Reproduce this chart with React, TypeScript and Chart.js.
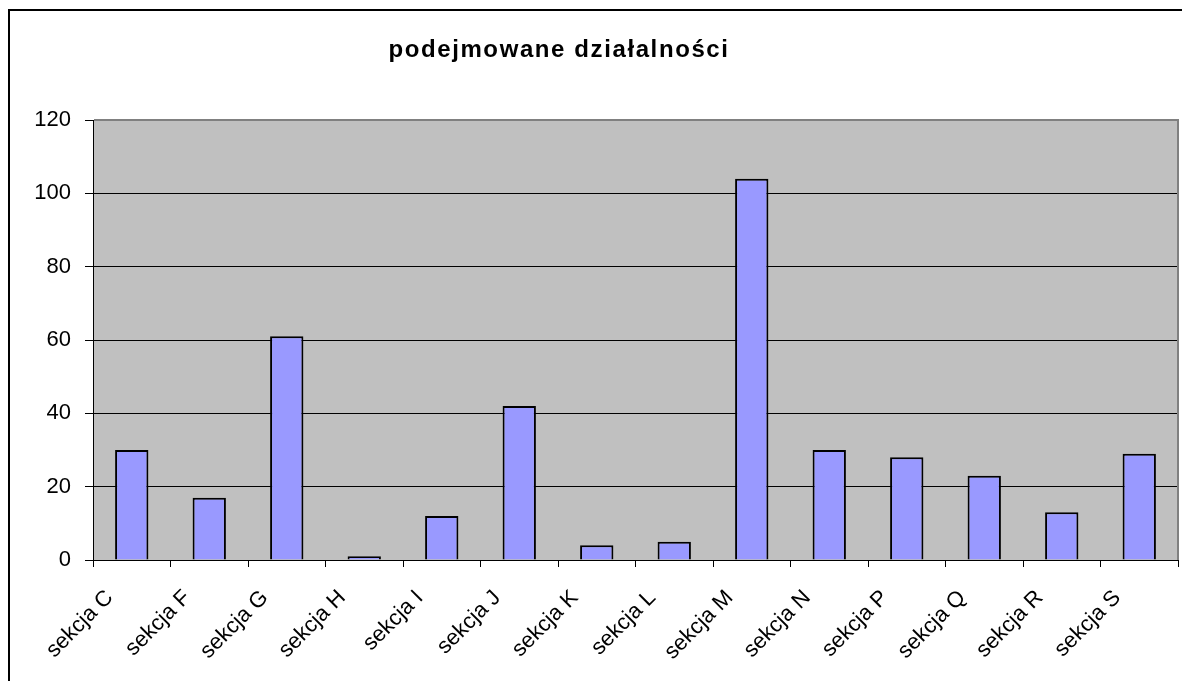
import React, { useEffect, useRef } from "react";
import { Chart, registerables } from "chart.js";

Chart.register(...registerables);

const categories = [
  "sekcja C", "sekcja F", "sekcja G", "sekcja H", "sekcja I", "sekcja J", "sekcja K",
  "sekcja L", "sekcja M", "sekcja N", "sekcja P", "sekcja Q", "sekcja R", "sekcja S",
];
const values = [30, 17, 61, 1, 12, 42, 4, 5, 104, 30, 28, 23, 13, 29];
const titleText = "podejmowane działalności";
const yMin = 0;
const yMax = 120;
const yStep = 20;

const FONT = "Arial, 'Liberation Sans', sans-serif";

export default function App() {
  const ref = useRef<HTMLCanvasElement | null>(null);

  useEffect(() => {
    if (!ref.current) return;
    const bgPlugin = {
      id: "plotBg",
      beforeDraw(chart: any) {
        const { ctx, chartArea } = chart;
        ctx.save();
        ctx.fillStyle = "#C0C0C0";
        ctx.fillRect(chartArea.left, chartArea.top, chartArea.right - chartArea.left, chartArea.bottom - chartArea.top);
        ctx.restore();
      },
      afterDatasetsDraw(chart: any) {
        const { ctx, chartArea } = chart;
        ctx.save();
        ctx.strokeStyle = "#808080";
        ctx.lineWidth = 2;
        ctx.beginPath();
        ctx.moveTo(chartArea.left + 1, chartArea.top);
        ctx.lineTo(chartArea.right, chartArea.top);
        ctx.lineTo(chartArea.right, chartArea.bottom);
        ctx.stroke();
        ctx.restore();
      },
      afterDraw(chart: any) {
        const { ctx } = chart;
        ctx.save();
        ctx.fillStyle = "#000";
        ctx.font = `bold 24px ${FONT}`;
        ctx.textAlign = "center";
        ctx.textBaseline = "middle";
        try { (ctx as any).letterSpacing = "1.6px"; } catch (e) {}
        ctx.fillText(titleText, 559, 50);
        ctx.restore();
      },
    };

    const chart = new Chart(ref.current, {
      type: "bar",
      data: {
        labels: categories,
        datasets: [
          {
            data: values,
            backgroundColor: "#9999FF",
            borderColor: "#000000",
            borderWidth: 2,
            categoryPercentage: 1,
            barPercentage: 0.43,
          },
        ],
      },
      options: {
        animation: false,
        responsive: false,
        maintainAspectRatio: false,
        layout: { padding: { top: 120, left: 0, right: 4, bottom: 0 } },
        plugins: {
          legend: { display: false },
          title: { display: false },
          tooltip: { enabled: false },
        },
        scales: {
          x: {
            offset: true,
            grid: {
              offset: true,
              drawOnChartArea: false,
              drawTicks: true,
              tickLength: 7,
              color: "#000",
              lineWidth: 1,
            },
            border: { display: true, color: "#000", width: 1 },
            ticks: {
              color: "#000",
              font: { family: FONT, size: 22 },
              minRotation: 45,
              maxRotation: 45,
              autoSkip: false,
              padding: 18,
              labelOffset: -22,
            },
            afterFit(scale: any) {
              scale.height = 121;
            },
          },
          y: {
            min: yMin,
            max: yMax,
            grid: {
              color: "#000",
              lineWidth: 1,
              drawTicks: true,
              tickLength: 8,
            },
            border: { display: true, color: "#000", width: 1 },
            ticks: {
              stepSize: yStep,
              color: "#000",
              font: { family: FONT, size: 22 },
              padding: 14,
            },
            afterFit(scale: any) {
              scale.width = 93;
            },
          },
        },
      },
      plugins: [bgPlugin],
    });
    return () => chart.destroy();
  }, []);

  return (
    <div style={{ position: "fixed", left: 0, top: 0, width: 1182, height: 681, overflow: "hidden", background: "#fff" }}>
      <div
        style={{
          position: "absolute",
          left: 8,
          top: 9,
          width: 1200,
          height: 700,
          border: "2px solid #000",
          boxSizing: "border-box",
        }}
      />
      <canvas ref={ref} width={1182} height={681} style={{ position: "absolute", left: 0, top: 0 }} />
    </div>
  );
}
